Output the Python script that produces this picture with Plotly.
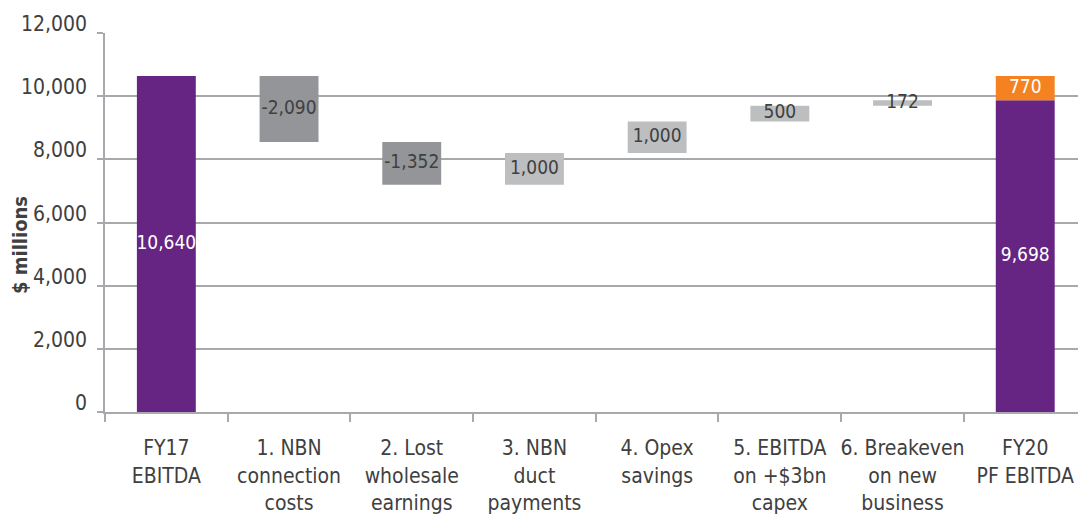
import plotly.graph_objects as go

categories = ["FY17<br>EBITDA", "1. NBN<br>connection<br>costs", "2. Lost<br>wholesale<br>earnings",
              "3. NBN<br>duct<br>payments", "4. Opex<br>savings", "5. EBITDA<br>on +$3bn<br>capex",
              "6. Breakeven<br>on new<br>business", "FY20<br>PF EBITDA"]
start_value = 10640
changes = [-2090, -1352, 1000, 1000, 500, 172]
fy20_top_up = 770
fy20_label = "9,698"
y_ticks = [0, 2000, 4000, 6000, 8000, 10000, 12000]

PURPLE = "#662483"
DARK_GREY = "#939598"
LIGHT_GREY = "#bcbec0"
ORANGE = "#f58220"
TEXT = "#404040"
GRID = "#a7a9ac"
FONT = "DejaVu Sans Condensed, sans-serif"

# compute waterfall bases
bases, heights, colors, labels = [], [], [], []
running = start_value
bases.append(0); heights.append(start_value); colors.append(PURPLE); labels.append(f"{start_value:,}")
for c in changes:
    if c < 0:
        bases.append(running + c); heights.append(-c); colors.append(DARK_GREY)
    else:
        bases.append(running); heights.append(c); colors.append(LIGHT_GREY)
    labels.append(f"{c:,}")
    running += c
bases.append(0); heights.append(running); colors.append(PURPLE); labels.append(fy20_label)

fig = go.Figure()
fig.add_trace(go.Bar(x=categories, y=heights, base=bases, marker_color=colors,
                     marker_line_width=0, width=0.48, hoverinfo="skip"))
fig.add_trace(go.Bar(x=[categories[-1]], y=[fy20_top_up], base=[running], marker_color=ORANGE,
                     marker_line_width=0, width=0.48, hoverinfo="skip"))

text_colors = ["white"] + [TEXT] * len(changes) + ["white"]
mids = [b + h / 2 for b, h in zip(bases, heights)]
fig.add_trace(go.Scatter(x=categories, y=mids, mode="text", text=labels,
                         textfont=dict(family=FONT, size=19, color=text_colors), hoverinfo="skip"))
fig.add_trace(go.Scatter(x=[categories[-1]], y=[running + fy20_top_up / 2], mode="text",
                         text=[f"{fy20_top_up:,}"],
                         textfont=dict(family=FONT, size=19, color="white"), hoverinfo="skip"))

L, T, B = 105, 33, 102
pw = 1078 - L
ph = 514 - T - B

annotations = [dict(text="<b>$ millions</b>", x=(20 - L) / pw, xref="paper", xanchor="center",
                    y=(514 - B - 245) / ph, yref="paper", yanchor="middle", textangle=-90,
                    showarrow=False, font=dict(size=20, color=TEXT, family=FONT))]
for v in y_ticks:
    annotations.append(dict(text=f"{v:,}", x=(89 - L) / pw, xref="paper", xanchor="right",
                            y=v, yref="y", yanchor="bottom", yshift=-5, showarrow=False,
                            font=dict(size=21, color=TEXT, family=FONT)))

fig.update_layout(
    width=1078, height=514, margin=dict(l=L, r=0, t=T, b=B),
    plot_bgcolor="white", paper_bgcolor="white", showlegend=False, barmode="overlay",
    font=dict(family=FONT, color=TEXT, size=20),
    xaxis=dict(type="category", range=[-0.5, 7.43], showgrid=False, showline=True,
               linecolor=GRID, linewidth=2, ticks="outside", tickson="boundaries",
               ticklen=8, tickcolor=GRID, tickwidth=2, tickfont=dict(size=21, color=TEXT),
               tickangle=0, automargin=False, ticklabelstandoff=16),
    yaxis=dict(range=[0, 12000], tickvals=y_ticks, showticklabels=False, showgrid=True,
               gridcolor=GRID, gridwidth=2, showline=True, linecolor=GRID, linewidth=2,
               ticks="outside", ticklen=6, tickcolor=GRID, tickwidth=2,
               zeroline=False, automargin=False),
    annotations=annotations,
)

fig.write_html("out.html")
